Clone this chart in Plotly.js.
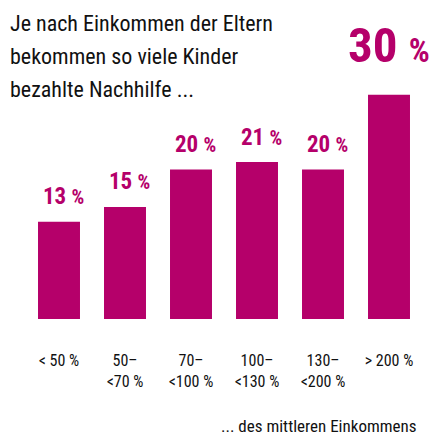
<!DOCTYPE html>
<html>
<head>
<meta charset="utf-8">
<script src="https://cdn.plot.ly/plotly-3.0.1.min.js"></script>
<style>html,body{margin:0;padding:0;background:#fff;overflow:hidden;}</style>
</head>
<body>
<div id="chart" style="width:433px;height:435px;"></div>
<script>
const categories = ["<50", "50-70", "70-100", "100-130", "130-200", ">200"];
const tickLabels = ["< 50 %", "50–<br><70 %", "70–<br><100 %", "100–<br><130 %", "130–<br><200 %", "> 200 %"];
const values = [13, 15, 20, 21, 20, 30];
const titleLines = ["Je nach Einkommen der Eltern", "bekommen so viele Kinder", "bezahlte Nachhilfe ..."];
const footnote = "... des mittleren Einkommens";

const MAG = "#b5006a";
const FONT = "'Roboto Condensed', 'Open Sans', sans-serif";
const maxVal = Math.max(...values);

// plot area: top 20px, height 299px
const T = 20, H = 299;
const py = p => 1 - (p - T) / H;

const annotations = values.map((v, i) => {
  const big = v === maxVal;
  return {
    x: categories[i], y: v, xref: "x", yref: "y",
    text: "<b>" + v + " <span style='font-size:" + (big ? 33 : 20) + "px'>%</span></b>",
    showarrow: false, yanchor: "middle", xanchor: "center",
    xshift: big ? 0 : 4,
    yshift: big ? 49 : 25,
    borderpad: 0,
    font: {family: FONT, size: big ? 49 : 23, color: MAG}
  };
});
annotations.push({
  xref: "paper", yref: "paper", x: 1, y: py(426), xshift: -3,
  xanchor: "right", yanchor: "middle", showarrow: false,
  text: footnote,
  font: {family: FONT, size: 17, color: "#111"}
});
titleLines.forEach((line, i) => {
  annotations.push({
    xref: "paper", yref: "paper", x: 0, y: py(23 + 33 * i), xshift: -18,
    xanchor: "left", yanchor: "middle", align: "left", showarrow: false,
    text: line,
    font: {family: FONT, size: 22, color: "#111"}
  });
});

const trace = {
  type: "bar", x: categories, y: values,
  marker: {color: MAG},
  hoverinfo: "skip"
};

const layout = {
  width: 433, height: 435,
  margin: {l: 26, r: 11, t: T, b: 435 - T - H, autoexpand: false},
  paper_bgcolor: "#fff", plot_bgcolor: "#fff",
  bargap: 0.364,
  showlegend: false,
  xaxis: {
    type: "category", tickvals: categories, ticktext: tickLabels,
    range: [-0.5, categories.length - 0.5], autorange: false,
    showgrid: false, zeroline: false, showline: false, ticks: "",
    tickangle: 0, automargin: false,
    ticklabelstandoff: 30,
    tickfont: {family: FONT, size: 16, color: "#111"}
  },
  yaxis: {range: [0, 40], visible: false, showgrid: false, zeroline: false, automargin: false},
  annotations: annotations
};

Plotly.newPlot("chart", [trace], layout, {staticPlot: true, displayModeBar: false});
</script>
</body>
</html>
